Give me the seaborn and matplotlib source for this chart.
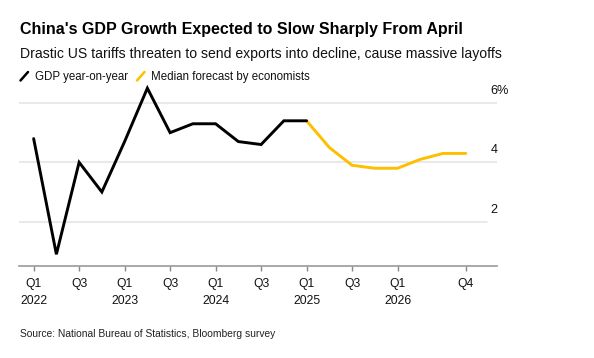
import matplotlib
matplotlib.use("Agg")
import matplotlib.pyplot as plt
import seaborn as sns
import pandas as pd
from matplotlib.lines import Line2D

# values
actual_quarters = ["2022Q1", "2022Q2", "2022Q3", "2022Q4", "2023Q1", "2023Q2", "2023Q3",
                   "2023Q4", "2024Q1", "2024Q2", "2024Q3", "2024Q4", "2025Q1"]
gdp_yoy = [4.8, 0.9, 4.0, 3.0, 4.7, 6.5, 5.0, 5.3, 5.3, 4.7, 4.6, 5.4, 5.4]

forecast_quarters = ["2025Q1", "2025Q2", "2025Q3", "2025Q4", "2026Q1", "2026Q2", "2026Q3", "2026Q4"]
forecast_median = [5.4, 4.5, 3.9, 3.8, 3.8, 4.1, 4.3, 4.3]

all_quarters = actual_quarters[:-1] + forecast_quarters
tick_quarters = ["2022Q1", "2022Q3", "2023Q1", "2023Q3", "2024Q1", "2024Q3",
                 "2025Q1", "2025Q3", "2026Q1", "2026Q4"]
tick_labels = ["Q1\n2022", "Q3", "Q1\n2023", "Q3", "Q1\n2024", "Q3",
               "Q1\n2025", "Q3", "Q1\n2026", "Q4"]
y_gridlines = [2, 4, 6]
y_labels = ["2", "4", "6%"]

sns.set_theme(style="white")
plt.rcParams["font.family"] = ["Liberation Sans", "DejaVu Sans"]

pos = {q: i for i, q in enumerate(all_quarters)}
actual_df = pd.DataFrame({"x": [pos[q] for q in actual_quarters], "value": gdp_yoy})
forecast_df = pd.DataFrame({"x": [pos[q] for q in forecast_quarters], "value": forecast_median})

BLACK = "#000000"
YELLOW = "#FDBF00"

fig = plt.figure(figsize=(5.94, 3.58), dpi=100)
ax = fig.add_axes([0.0325, 0.2578, 0.8045, 0.5042])

# gridlines
for g in y_gridlines:
    xmax = 0.978 if g == 2 else 1.0
    ax.axhline(g, xmin=0, xmax=xmax, color="#e3e3e3", lw=1.1, zorder=0)

sns.lineplot(data=actual_df, x="x", y="value", color=BLACK, lw=2.1, ax=ax,
             solid_joinstyle="miter", zorder=3)
sns.lineplot(data=forecast_df, x="x", y="value", color=YELLOW, lw=2.1, ax=ax,
             solid_joinstyle="round", zorder=2)

ax.set_xlim(-0.63, 20.38)
ax.set_ylim(0.515, 6.6)
ax.set_xlabel("")
ax.set_ylabel("")
ax.set_yticks([])
ax.set_xticks([pos[q] for q in tick_quarters])
ax.set_xticklabels(tick_labels, fontsize=8.7, color="#111111")
for t in ax.get_xticklabels():
    t.set_linespacing(1.55)
ax.tick_params(axis="x", bottom=True, length=3.8, width=1.0, color="#888888", pad=5)

for side in ["top", "left", "right"]:
    ax.spines[side].set_visible(False)
ax.spines["bottom"].set_color("#999999")
ax.spines["bottom"].set_linewidth(1.2)

# right side value labels sit just above their gridlines
for g, lab in zip(y_gridlines, y_labels):
    ax.text(0.986, g + 0.40, lab, transform=ax.get_yaxis_transform(),
            ha="left", va="center", fontsize=9.2, color="#111111")

# titles
fig.text(20 / 594, 1 - 34.3 / 358, "China's GDP Growth Expected to Slow Sharply From April",
         fontsize=11.5, fontweight="bold", color="#000000", va="baseline", ha="left")
fig.text(20 / 594, 1 - 58.3 / 358,
         "Drastic US tariffs threaten to send exports into decline, cause massive layoffs",
         fontsize=10.1, color="#111111", va="baseline", ha="left")

# legend with slash markers
def slash(x0, color):
    fig.add_artist(Line2D([x0 / 594, (x0 + 7.5) / 594],
                          [1 - 80.5 / 358, 1 - 72 / 358],
                          transform=fig.transFigure, color=color, lw=1.8))

slash(20.5, BLACK)
fig.text(35 / 594, 1 - 80 / 358, "GDP year-on-year", fontsize=8.3, color="#111111",
         va="baseline", ha="left")
slash(137, YELLOW)
fig.text(150.7 / 594, 1 - 80 / 358, "Median forecast by economists", fontsize=8.3,
         color="#111111", va="baseline", ha="left")

fig.text(20 / 594, 1 - 337.3 / 358, "Source: National Bureau of Statistics, Bloomberg survey",
         fontsize=7.4, color="#222222", va="baseline", ha="left")

fig.savefig("out.png", dpi=100)
